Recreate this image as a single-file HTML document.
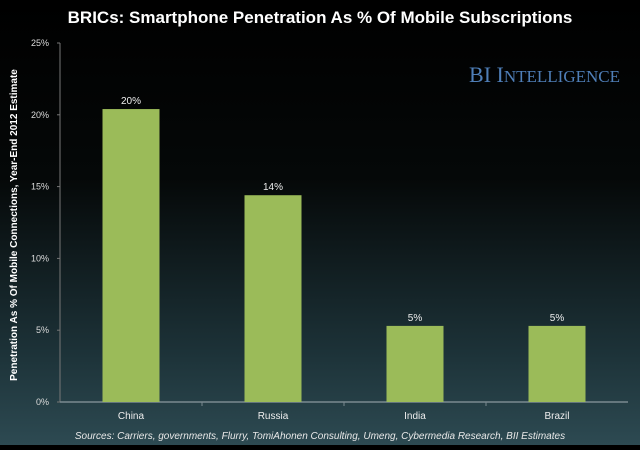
<!DOCTYPE html>
<html><head><meta charset="utf-8"><style>
html,body{margin:0;padding:0}
body{width:640px;height:445px;overflow:hidden;background:linear-gradient(#000 0%,#050808 40%,#1d3339 80%,#2d4a52 100%);font-family:"Liberation Sans",sans-serif}
</style></head><body>
<svg width="640" height="445" xmlns="http://www.w3.org/2000/svg">
<text x="320" y="23" text-anchor="middle" fill="#fff" font-size="17" font-weight="bold">BRICs: Smartphone Penetration As % Of Mobile Subscriptions</text>
<text x="620" y="82" text-anchor="end" fill="#4f7fb8" font-family="Liberation Serif,serif" font-size="22">BI I<tspan font-size="17">NTELLIGENCE</tspan></text>
<text transform="translate(17,225) rotate(-90)" text-anchor="middle" fill="#fff" font-size="10" font-weight="bold">Penetration As % Of Mobile Connections, Year-End 2012 Estimate</text>
<text x="320" y="439" text-anchor="middle" fill="#e8e8e8" font-size="10" font-style="italic">Sources: Carriers, governments, Flurry, TomiAhonen Consulting, Umeng, Cybermedia Research, BII Estimates</text>
<g id="plot"></g>
</svg>
<script>
const categories=["China","Russia","India","Brazil"];
const values=[20.4,14.4,5.3,5.3];
const labels=["20%","14%","5%","5%"];
const ticks=[0,5,10,15,20,25];
const x0=60,x1=628,yTop=43,yBot=402,max=25;
const y=v=>yBot-(v/max)*(yBot-yTop);
const band=(x1-x0)/categories.length;
const xc=i=>x0+band*(i+0.5);
const NS="http://www.w3.org/2000/svg";
const g=document.getElementById('plot');
function mk(t,a,txt){const e=document.createElementNS(NS,t);for(const k in a)e.setAttribute(k,a[k]);if(txt!==undefined)e.textContent=txt;g.appendChild(e);return e;}
let ax=mk('line',{x1:x0,y1:yTop,x2:x0,y2:yBot,stroke:'#777','stroke-width':1});


let bx=mk('line',{x1:x0,y1:yBot,x2:x1,y2:yBot,stroke:'#7a8a90','stroke-width':1.5});


ticks.forEach(t=>{
 let l=mk('line',{x1:x0-3,y1:y(t),x2:x0,y2:y(t),stroke:'#777'});
 
 
 let tx=mk('text',{x:x0-11,y:y(t)+3,'text-anchor':'end',fill:'#ddd','font-size':9},t+'%');
 
 
});
categories.forEach((c,i)=>{
 if(i>0){let l=mk('line',{x1:x0+band*i,y1:yBot,x2:x0+band*i,y2:yBot+4,stroke:'#7a8a90'});
 
 }
 const w=57;
 let r=mk('rect',{x:xc(i)-w/2,y:y(values[i]),width:w,height:yBot-y(values[i]),fill:'#9bbb59'});
 
 
 let vl=mk('text',{x:xc(i),y:y(values[i])-5,'text-anchor':'middle',fill:'#eee','font-size':10},labels[i]);
 
 
 let cl=mk('text',{x:xc(i),y:yBot+17,'text-anchor':'middle',fill:'#eee','font-size':10},c);
 
 
});
</script>
</body></html>
